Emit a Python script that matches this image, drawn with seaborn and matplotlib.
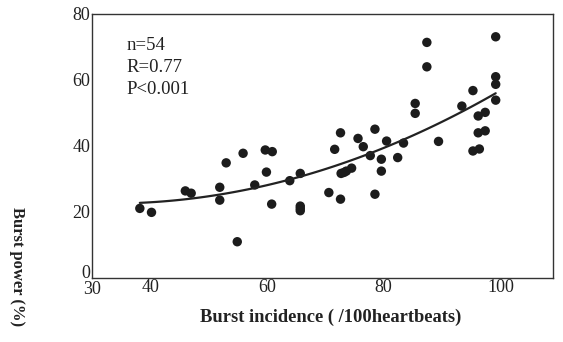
import matplotlib
matplotlib.use("Agg")
import matplotlib.pyplot as plt
import matplotlib.transforms as mtransforms
import seaborn as sns
import numpy as np
import pandas as pd

# Burst incidence (/100 heartbeats) and burst power (%) for each subject
incidence = [38.2, 40.2, 46.0, 47.0, 51.9, 51.9, 53.0, 54.9, 55.9, 57.9,
             59.7, 60.9, 59.9, 60.8, 63.9, 65.7, 65.7, 65.7, 65.7, 70.6,
             71.6, 72.6, 72.7, 73.2, 73.6, 74.5, 72.6, 75.6, 76.5, 77.7,
             78.5, 79.6, 79.6, 78.5, 80.5, 82.4, 83.4, 85.4, 85.4, 87.4,
             87.4, 89.4, 93.4, 95.3, 96.2, 97.4, 96.2, 97.4, 95.3, 96.4,
             99.2, 99.2, 99.2, 99.2]
power = [21.0, 19.8, 26.3, 25.6, 27.4, 23.5, 34.8, 10.9, 37.7, 28.1,
         38.7, 38.2, 32.0, 22.3, 29.4, 31.6, 21.7, 21.0, 20.3, 25.8,
         38.9, 43.9, 31.6, 31.9, 32.3, 33.2, 23.8, 42.2, 39.7, 37.0,
         45.0, 35.9, 32.3, 25.3, 41.4, 36.4, 40.8, 52.8, 49.8, 71.3,
         63.9, 41.3, 52.0, 56.7, 49.0, 50.1, 43.9, 44.5, 38.4, 39.0,
         73.0, 60.9, 58.6, 53.8]

stats_lines = ["n=54", "R=0.77", "P<0.001"]
x_ticks = [30, 40, 60, 80, 100]
y_ticks = [0, 20, 40, 60, 80]

df = pd.DataFrame({"incidence": incidence, "power": power})

sns.set_theme(style="white")
plt.rcParams["font.family"] = ["Liberation Serif", "DejaVu Serif"]

fig = plt.figure(figsize=(5.63, 3.42), dpi=100)
ax = fig.add_axes([0.1634, 0.188, 0.8186, 0.772])

# scatter with a second-order regression curve over the data range
sns.regplot(data=df, x="incidence", y="power", order=2, ci=None,
            truncate=True, ax=ax,
            scatter_kws=dict(s=46, color="#1c1c1c", edgecolor="none", alpha=1),
            line_kws=dict(color="#222222", lw=1.6))

ax.set_xlim(30, 109)
ax.set_ylim(0, 80)
ax.set_xticks(x_ticks)
ax.set_yticks(y_ticks)
ax.tick_params(direction="in", length=5, width=1, colors="#222222",
               labelsize=13, pad=1, labelcolor="#222222")
for sp in ax.spines.values():
    sp.set_color("#333333")
    sp.set_linewidth(1.0)

# separate the two corner labels: "0" nudged up, "30" nudged down
def nudge(label, dy_px):
    label.set_transform(label.get_transform() +
                        mtransforms.ScaledTranslation(0, dy_px / 100, fig.dpi_scale_trans))

nudge(ax.get_yticklabels()[0], 6)
nudge(ax.get_xticklabels()[0], -2)

ax.set_xlabel("")
ax.set_ylabel("")
fig.text(331 / 563, 1 - 317 / 342, "Burst incidence ( /100heartbeats)",
         fontsize=13.3, fontweight="bold", color="#222222",
         ha="center", va="center")
fig.text(0.030, 0.22, "Burst power (%)", rotation=270, fontsize=12,
         fontweight="bold", color="#222222", ha="center", va="center")

for i, line in enumerate(stats_lines):
    ax.text(0.075, 0.878 - i * 0.083, line, transform=ax.transAxes,
            fontsize=13.5, color="#222222", ha="left", va="center")

fig.savefig("out.png", dpi=100)
